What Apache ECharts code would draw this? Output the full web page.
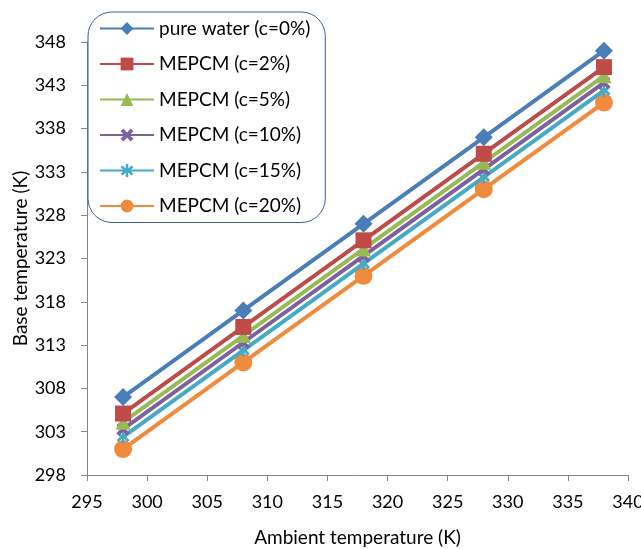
<!DOCTYPE html>
<html><head><meta charset="utf-8">
<script src="https://cdn.jsdelivr.net/npm/echarts@6/dist/echarts.min.js"></script>
<style>html,body{margin:0;padding:0;background:#fff}#c{width:641px;height:549px}</style>
</head><body><div id="c"></div>
<script>
const ambient = [298, 308, 318, 328, 338];
const names = ['pure water (c=0%)','MEPCM (c=2%)','MEPCM (c=5%)','MEPCM (c=10%)','MEPCM (c=15%)','MEPCM (c=20%)'];
const pureWater = [307, 317, 327, 337, 347];
const c2 = [305.1, 315.1, 325.1, 335.1, 345.1];
const c5 = [304.1, 314.1, 324.1, 334.1, 344.1];
const c10 = [303.3, 313.3, 323.3, 333.3, 343.3];
const c15 = [302.4, 312.4, 322.4, 332.4, 342.4];
const c20 = [301, 311, 321, 331, 341];
const colors = ['#4a7ebb','#be4b48','#98b954','#7d60a0','#46aac5','#f08a3c'];

const xPath = 'path://M2,0 L5,3 L8,0 L10,2 L7,5 L10,8 L8,10 L5,7 L2,10 L0,8 L3,5 L0,2 Z';
const starPath = 'path://M4,0 L6,0 L6,3.5 L8.5,1 L10,2.5 L7.5,5 L10,7.5 L8.5,9 L6,6.5 L6,10 L4,10 L4,6.5 L1.5,9 L0,7.5 L2.5,5 L0,2.5 L1.5,1 L4,3.5 Z';
const symbols = ['diamond','rect','triangle',xPath,starPath,'circle'];
const sizes = [18,16,15,13,13,18];
const allData = [pureWater,c2,c5,c10,c15,c20];

const series = allData.map((d,i)=>({
  name: names[i], type:'line', data: d.map((v,j)=>[ambient[j], v]),
  symbol: symbols[i], symbolSize: sizes[i], showAllSymbol:true,
  lineStyle:{color:colors[i], width:4}, itemStyle:{color:colors[i]},
  z: 10 - i
}));

const chart = echarts.init(document.getElementById('c'));
chart.setOption({
  animation:false,
  textStyle:{fontFamily:'Lato'},
  grid:{left:87,right:13,top:42,bottom:74,containLabel:false,outerBoundsMode:'none'},
  legend:{
    orient:'vertical', left:88, top:12, data:names,
    backgroundColor:'#fff', borderColor:'#3d5f94', borderWidth:1, borderRadius:24,
    padding:[7,15,7,11], itemWidth:54, itemHeight:16, itemGap:16.5,
    textStyle:{fontSize:19, lineHeight:19, color:'#000', fontFamily:'Lato'}
  },
  xAxis:{type:'value', min:295, max:340, interval:5,
    name:'Ambient temperature (K)', nameLocation:'middle', nameGap:53,
    nameTextStyle:{fontSize:19,color:'#000'},
    axisLine:{lineStyle:{color:'#868686'}}, axisTick:{show:true,length:6,lineStyle:{color:'#868686'}},
    axisLabel:{fontSize:18,color:'#000',margin:18}, splitLine:{show:false}},
  yAxis:{type:'value', min:298, max:348, interval:5,
    name:'Base temperature (K)', nameLocation:'middle', nameGap:57, nameMoveOverlap:false,
    nameTextStyle:{fontSize:19,color:'#000'},
    axisLine:{show:true,lineStyle:{color:'#868686'}}, axisTick:{show:true,length:6,lineStyle:{color:'#868686'}},
    axisLabel:{fontSize:18,color:'#000',margin:21}, splitLine:{show:false}},
  series: series
});
</script></body></html>
